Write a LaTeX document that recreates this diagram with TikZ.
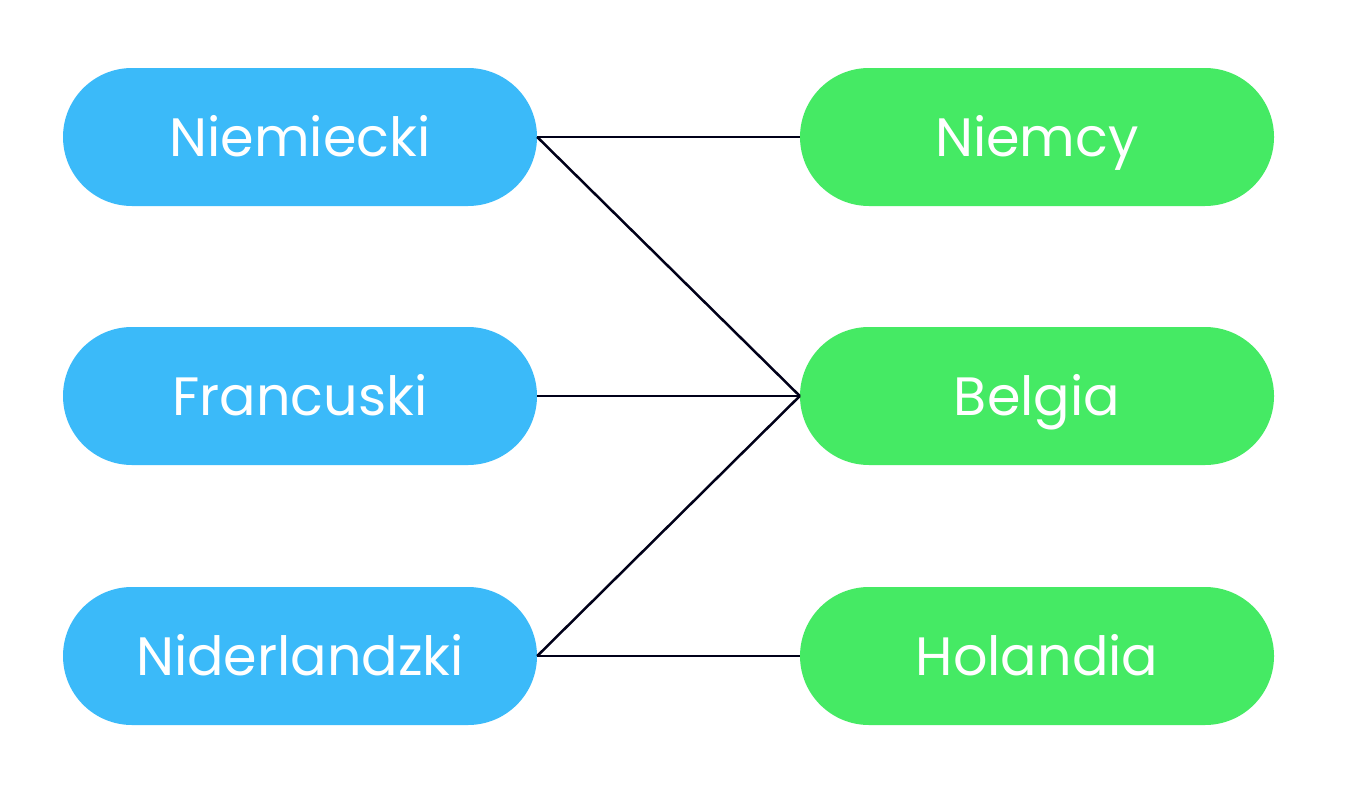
\documentclass[tikz,border=0pt]{standalone}
\usepackage{fontspec}
\setmainfont{Poppins}
\definecolor{langblue}{RGB}{59,186,249}
\definecolor{landgreen}{RGB}{69,234,100}
\tikzset{
  pill/.style={rectangle,rounded corners=69pt,minimum width=474pt,minimum height=138pt,
    inner sep=0pt,text=white,font=\fontsize{54}{58}\selectfont,text height=38pt,text depth=0pt},
  lang/.style={pill,fill=langblue},
  land/.style={pill,fill=landgreen},
  link/.style={line width=2.5pt,black!90!blue}
}
\begin{document}
\begin{tikzpicture}[x=1pt,y=-1pt]
\useasboundingbox [fill=white] (0,0) rectangle (1364,784);
\node (de) at (300,137) [lang] {Niemiecki};
\node (fr) at (300,396) [lang] {Francuski};
\node (nl) at (300,656) [lang] {Niderlandzki};

\node (ger) at (1037,137) [land] {Niemcy};
\node (bel) at (1037,396) [land] {Belgia};
\node (hol) at (1037,656) [land] {Holandia};

\draw [link] (de.east) -- (ger.west);
\draw [link] (de.east) -- (bel.west);
\draw [link] (fr.east) -- (bel.west);
\draw [link] (nl.east) -- (bel.west);
\draw [link] (nl.east) -- (hol.west);
\end{tikzpicture}
\end{document}
